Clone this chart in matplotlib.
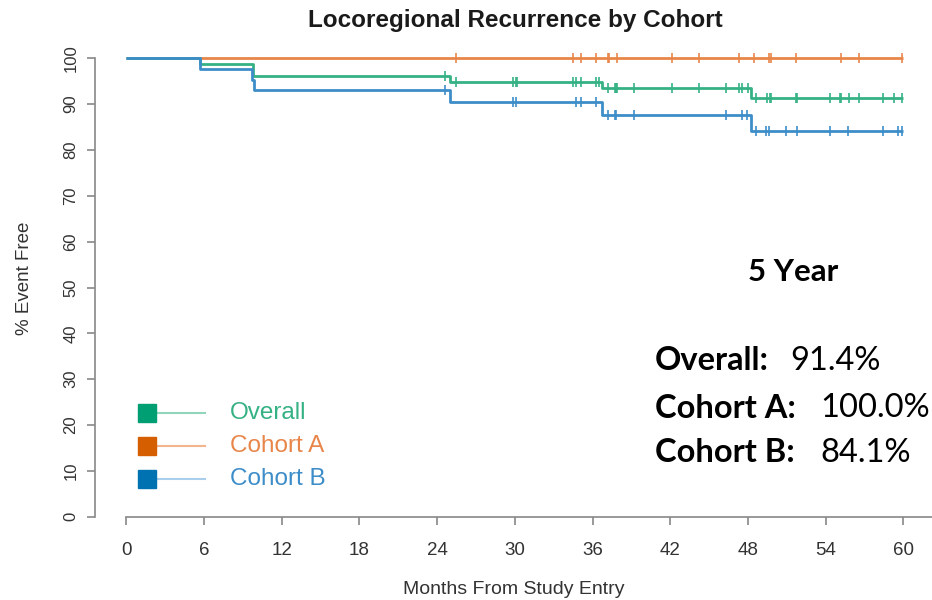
import matplotlib
matplotlib.use("Agg")
import matplotlib.pyplot as plt

# Kaplan-Meier step data (months, % event free)
overall_t = [0, 5.7, 9.8, 25.0, 36.7, 48.2, 60]
overall_s = [100, 98.8, 96.2, 94.8, 93.5, 91.4, 91.4]
cohort_a_t = [0, 60]
cohort_a_s = [100, 100]
cohort_b_t = [0, 5.7, 9.7, 9.9, 25.0, 36.7, 48.2, 60]
cohort_b_s = [100, 97.6, 95.3, 93.1, 90.5, 87.6, 84.1, 84.1]

# censor times
overall_cens = [24.6, 25.5, 29.9, 30.1, 30.2, 34.5, 34.7, 35.1, 36.3, 36.5,
                37.2, 37.7, 37.8, 37.9, 39.2, 42.1, 44.2, 46.3, 47.3, 47.5,
                48.0, 48.6, 49.5, 49.7, 49.8, 51.7, 51.8, 54.3, 55.1, 55.2,
                55.8, 56.6, 58.4, 59.3, 59.9]
cohort_a_cens = [25.5, 34.5, 35.1, 36.3, 37.2, 37.3, 37.9, 42.1, 44.2, 47.3,
                 48.5, 49.6, 49.8, 51.7, 55.2, 56.6, 59.9]
cohort_b_cens = [24.6, 29.9, 30.1, 34.7, 35.1, 36.3, 37.2, 37.7, 37.8, 39.2,
                 46.3, 47.5, 47.9, 48.6, 49.4, 49.6, 50.9, 51.8, 54.3, 55.7,
                 58.4, 59.6, 59.9]

labels = ["Overall", "Cohort A", "Cohort B"]
curve_colors = ["#35b184", "#e8864a", "#3d8dc9"]
dark_colors = ["#009e73", "#d55e00", "#0072b2"]
light_colors = ["#8fd6bb", "#f2b48c", "#a9cfec"]

x_ticks = list(range(0, 61, 6))
y_ticks = list(range(0, 101, 10))

five_year = [("Overall:", "91.4%"), ("Cohort A:", "100.0%"), ("Cohort B:", "84.1%")]


def step_value(t, times, surv):
    v = surv[0]
    for ti, si in zip(times, surv):
        if ti <= t:
            v = si
    return v


W, H = 932, 600
fig = plt.figure(figsize=(W / 100, H / 100), dpi=100)
ax = fig.add_axes([95 / W, (H - 516.7) / H, 837 / W, 476.7 / H])
ax.set_xlim(-2.4, 62.2)
ax.set_ylim(0, 104)

series = [(overall_t, overall_s, overall_cens),
          (cohort_a_t, cohort_a_s, cohort_a_cens),
          (cohort_b_t, cohort_b_s, cohort_b_cens)]
# draw A first so overall/B sit on top near 100
for idx in [1, 0, 2]:
    t, s, cens = series[idx]
    ax.step(t, s, where="post", color=curve_colors[idx], lw=2, solid_capstyle="butt")
    cy = [step_value(c, t, s) for c in cens]
    ax.plot(cens, cy, ls="none", marker="|", ms=7, mew=1.2, color=curve_colors[idx])

gray = "#888888"
for side in ["top", "right"]:
    ax.spines[side].set_visible(False)
ax.spines["left"].set_bounds(0, 100)
ax.spines["bottom"].set_bounds(0, 62.2)
for side in ["left", "bottom"]:
    ax.spines[side].set_color(gray)
    ax.spines[side].set_linewidth(1.2)

ax.set_xticks(x_ticks)
ax.set_xticklabels([str(v) for v in x_ticks], fontsize=13.5)
ax.set_yticks(y_ticks)
ax.set_yticklabels([str(v) for v in y_ticks], rotation=90, va="center", fontsize=12)
ax.tick_params(axis="both", colors=gray, labelcolor="#333333",
               length=6, width=1.2)
ax.tick_params(axis="x", pad=12)
ax.tick_params(axis="y", pad=6)
for lab in ax.get_xticklabels() + ax.get_yticklabels():
    lab.set_family("Liberation Sans")

ax.set_xlabel("Months From Study Entry", fontsize=14, color="#333333",
              family="Liberation Sans", labelpad=16)
ax.set_ylabel("% Event Free", fontsize=13.5, color="#333333",
              family="Liberation Sans", labelpad=22)

fig.text(515 / W, 1 - 20 / H, "Locoregional Recurrence by Cohort", ha="center",
         va="center", fontsize=17.5, fontweight="bold", family="Liberation Sans",
         color="#1a1a1a")

# legend
leg_y = [0.218, 0.149, 0.080]
for i, lab in enumerate(labels):
    ax.plot([0.0618, 0.131], [leg_y[i], leg_y[i]], transform=ax.transAxes,
            color=light_colors[i], lw=1.5, clip_on=False)
    ax.plot([0.0618], [leg_y[i]], transform=ax.transAxes, marker="s", ms=13,
            color=dark_colors[i], ls="none", clip_on=False)
    ax.text(0.161, leg_y[i], lab, transform=ax.transAxes, va="center", ha="left",
            fontsize=17.5, color=curve_colors[i], family="Liberation Sans")

# 5-year annotation
fig.text(793 / W, 1 - 272 / H, "5 Year", ha="center", va="center", fontsize=22.5,
         fontweight="bold", family="Lato")
row_y = [361, 408, 453]
val_x = [790, 820, 820]
for (name, val), yy, vx in zip(five_year, row_y, val_x):
    fig.text(655 / W, 1 - yy / H, name, ha="left", va="center", fontsize=23.5,
             fontweight="bold", family="Lato")
    fig.text(vx / W, 1 - yy / H, val, ha="left", va="center", fontsize=23.5,
             family="Lato")

fig.savefig("out.png", dpi=100)
